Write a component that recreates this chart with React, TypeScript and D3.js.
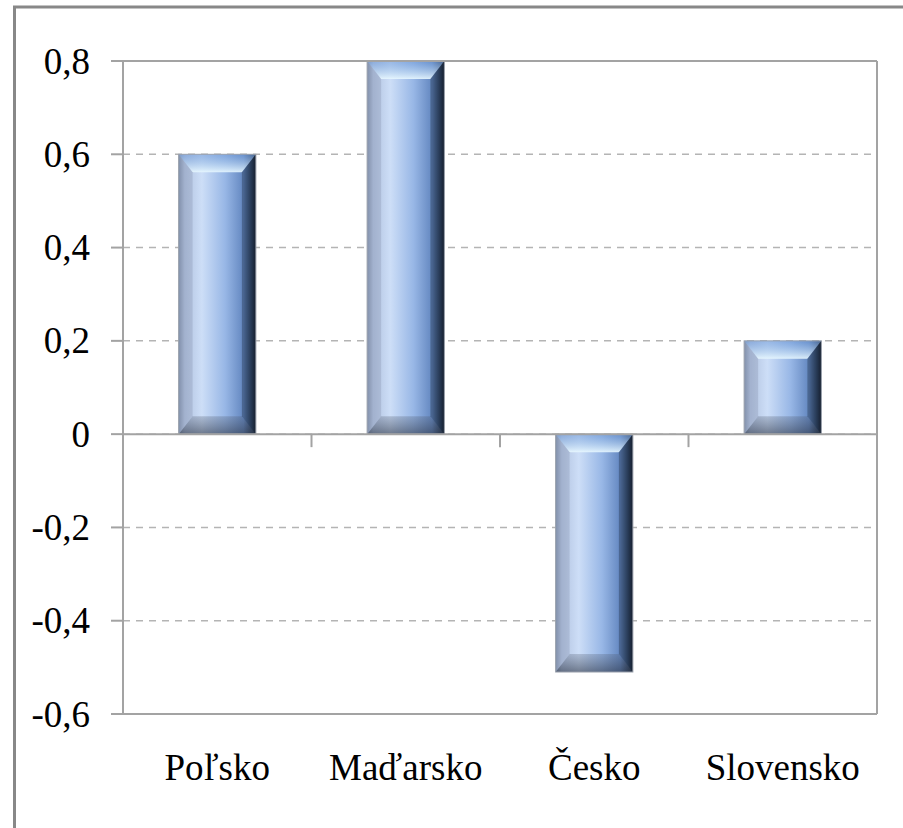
import React from "react";
import { scaleBand, scaleLinear } from "d3";

const categories = ["Poľsko", "Maďarsko", "Česko", "Slovensko"];
const values = [0.6, 0.8, -0.51, 0.2];
const yTicks = [0.8, 0.6, 0.4, 0.2, 0, -0.2, -0.4, -0.6];
const yTickLabels = ["0,8", "0,6", "0,4", "0,2", "0", "-0,2", "-0,4", "-0,6"];

const W = 903;
const H = 828;
const left = 123;
const right = 877;
const top = 61;
const bottom = 714;

export default function App() {
    const x = scaleBand<string>()
        .domain(categories)
        .range([left, right])
        .paddingInner(0.59)
        .paddingOuter(0.295);
    const slot = scaleBand<string>().domain(categories).range([left, right]);
    const y = scaleLinear().domain([-0.6, 0.8]).range([bottom, top]);
    const axisColor = "#a3a3a3";
    const textStyle = { fontFamily: "Liberation Serif, serif", fontSize: "37px" };

    return (
        <svg width={W} height={H} style={{ position: "absolute", left: 0, top: 0, background: "#fff" }}>
            <defs>
                <linearGradient id="body" x1="0" y1="0" x2="1" y2="0">
                    <stop offset="0" stopColor="#8898b2" />
                    <stop offset="0.08" stopColor="#b2c3e0" />
                    <stop offset="0.3" stopColor="#cddef7" />
                    <stop offset="0.6" stopColor="#98b7e6" />
                    <stop offset="0.84" stopColor="#6387c0" />
                    <stop offset="0.94" stopColor="#324869" />
                    <stop offset="1" stopColor="#1a2333" />
                </linearGradient>
                <linearGradient id="topBevel" x1="0" y1="0" x2="0" y2="1">
                    <stop offset="0" stopColor="#6f9ad8" stopOpacity="0.55" />
                    <stop offset="1" stopColor="#e8f8ff" stopOpacity="0.9" />
                </linearGradient>
                <linearGradient id="bottomBevel" x1="0" y1="0" x2="0" y2="1">
                    <stop offset="0" stopColor="#4a5468" stopOpacity="0.25" />
                    <stop offset="1" stopColor="#2e3646" stopOpacity="0.6" />
                </linearGradient>
            </defs>

            {/* outer frame */}
            <line x1={14.5} y1={6} x2={14.5} y2={H} stroke="#888" strokeWidth={3} />
            <line x1={13} y1={7} x2={W} y2={7} stroke="#888" strokeWidth={3} />

            {/* gridlines */}
            {yTicks.map((t) => (
                <line key={"g" + t} x1={left} x2={right} y1={y(t)} y2={y(t)}
                    stroke="#b4b4b4" strokeWidth={1.5} strokeDasharray="7,6" />
            ))}

            {/* bars */}
            {categories.map((c, i) => {
                const bx0 = x(c)!;
                const bw = x.bandwidth();
                const yTop = y(Math.max(0, values[i]));
                const yBot = y(Math.min(0, values[i]));
                const bh = yBot - yTop;
                const ex = Math.min(14, bw / 3);
                const ey = Math.min(18, bh / 3);
                const x1 = bx0 + bw;
                return (
                    <g key={c}>
                        <rect x={bx0} y={yTop} width={bw} height={bh} fill="url(#body)" />
                        <polygon points={`${bx0},${yTop} ${x1},${yTop} ${x1 - ex},${yTop + ey} ${bx0 + ex},${yTop + ey}`}
                            fill="url(#topBevel)" />
                        <polygon points={`${bx0},${yBot} ${x1},${yBot} ${x1 - ex},${yBot - ey} ${bx0 + ex},${yBot - ey}`}
                            fill="url(#bottomBevel)" />
                        <polygon points={`${bx0},${yTop} ${bx0 + ex},${yTop + ey} ${bx0 + ex},${yBot - ey} ${bx0},${yBot}`}
                            fill="#6d7890" fillOpacity={0.22} />
                        <polygon points={`${x1},${yTop} ${x1 - ex},${yTop + ey} ${x1 - ex},${yBot - ey} ${x1},${yBot}`}
                            fill="#0d1626" fillOpacity={0.3} />
                        <rect x={bx0} y={yTop} width={bw} height={bh} fill="none" stroke="#9ba2ad" strokeWidth={1} />
                    </g>
                );
            })}

            {/* plot border */}
            <line x1={left - 12} x2={right} y1={top} y2={top} stroke={axisColor} strokeWidth={2} />
            <line x1={left - 12} x2={right} y1={bottom} y2={bottom} stroke={axisColor} strokeWidth={2} />
            <line x1={left} x2={left} y1={top} y2={bottom} stroke={axisColor} strokeWidth={2} />
            <line x1={right} x2={right} y1={top} y2={bottom} stroke={axisColor} strokeWidth={2} />

            {/* y ticks and labels */}
            {yTicks.map((t, i) => (
                <g key={"t" + t}>
                    <line x1={left - 12} x2={left} y1={y(t)} y2={y(t)} stroke={axisColor} strokeWidth={2} />
                    <text x={90} y={y(t)} dy="0.34em" textAnchor="end" style={textStyle} fill="#000">
                        {yTickLabels[i]}
                    </text>
                </g>
            ))}

            {/* zero axis with category ticks */}
            <line x1={left} x2={right} y1={y(0)} y2={y(0)} stroke={axisColor} strokeWidth={2} />
            {categories.map((c) => (
                <line key={"xt" + c} x1={slot(c)! + slot.bandwidth()} x2={slot(c)! + slot.bandwidth()}
                    y1={y(0)} y2={y(0) + 13} stroke={axisColor} strokeWidth={2} />
            ))}

            {/* category labels */}
            {categories.map((c) => (
                <text key={"l" + c} x={slot(c)! + slot.bandwidth() / 2} y={780} textAnchor="middle"
                    style={textStyle} fill="#000">
                    {c}
                </text>
            ))}
        </svg>
    );
}
